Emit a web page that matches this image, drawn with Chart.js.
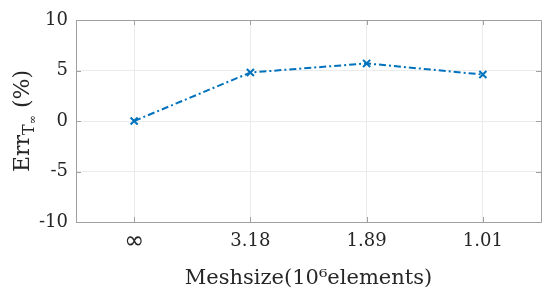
<!DOCTYPE html>
<html>
<head>
<meta charset="utf-8">
<script src="https://cdn.jsdelivr.net/npm/chart.js@4/dist/chart.umd.min.js"></script>
<style>
  html, body { margin: 0; padding: 0; background: #ffffff; }
  #wrap { width: 550px; height: 291px; }
</style>
</head>
<body>
<div id="wrap"><canvas id="c" width="550" height="291"></canvas></div>
<script>
const categories = ['\u221E', '3.18', '1.89', '1.01'];
const errValues = [0, 4.8, 5.7, 4.6];
const yTickValues = [-10, -5, 0, 5, 10];
const xTitle = 'Meshsize(10\u2076elements)';
const yTitleMain = 'Err';
const yTitleSub = 'T';
const yTitleSubSub = '\u221E';
const yTitleTail = ' (%)';

const FONT = "'DejaVu Serif', 'Liberation Serif', serif";
const INF_FONT = "'DejaVu Sans', 'DejaVu Serif', sans-serif";
const TEXT = '#262626';
const GRID = '#ebebeb';
const BOX = '#a0a0a0';

const boxPlugin = {
  id: 'boxPlugin',
  afterDatasetsDraw(chart) {
    const { ctx, chartArea: a, scales } = chart;
    ctx.save();
    ctx.strokeStyle = BOX;
    ctx.lineWidth = 1;
    ctx.beginPath();
    ctx.rect(Math.round(a.left) + 0.5, Math.round(a.top) + 0.5,
             Math.round(a.right - a.left), Math.round(a.bottom - a.top));
    ctx.stroke();
    const tl = 5;
    ctx.beginPath();
    scales.x.ticks.forEach((t, i) => {
      const px = Math.round(scales.x.getPixelForTick(i)) + 0.5;
      ctx.moveTo(px, a.bottom); ctx.lineTo(px, a.bottom - tl);
      ctx.moveTo(px, a.top); ctx.lineTo(px, a.top + tl);
    });
    scales.y.ticks.forEach((t) => {
      const py = Math.round(scales.y.getPixelForValue(t.value)) + 0.5;
      ctx.moveTo(a.left, py); ctx.lineTo(a.left + tl, py);
      ctx.moveTo(a.right, py); ctx.lineTo(a.right - tl, py);
    });
    ctx.stroke();
    ctx.restore();
  },
  afterDraw(chart) {
    const { ctx, chartArea: a } = chart;
    ctx.save();
    ctx.fillStyle = TEXT;
    ctx.textBaseline = 'alphabetic';
    ctx.textAlign = 'left';
    const big = "22px " + FONT, small = "16px " + FONT, tiny = "11px " + FONT;
    ctx.font = big; const w1 = ctx.measureText(yTitleMain).width;
    ctx.font = small; const w2 = ctx.measureText(yTitleSub).width;
    ctx.font = tiny; const w3 = ctx.measureText(yTitleSubSub).width;
    ctx.font = big; const w4 = ctx.measureText(yTitleTail).width;
    const total = w1 + w2 + w3 + w4;
    ctx.translate(29, (a.top + a.bottom) / 2);
    ctx.rotate(-Math.PI / 2);
    let x = -total / 2;
    ctx.font = big; ctx.fillText(yTitleMain, x, 0); x += w1;
    ctx.font = small; ctx.fillText(yTitleSub, x, 5); x += w2;
    ctx.font = tiny; ctx.fillText(yTitleSubSub, x, 7); x += w3;
    ctx.font = big; ctx.fillText(yTitleTail, x, 0);
    ctx.restore();
  }
};

new Chart(document.getElementById('c'), {
  type: 'line',
  data: {
    labels: categories,
    datasets: [{
      data: errValues,
      borderColor: '#0072BD',
      backgroundColor: '#0072BD',
      borderWidth: 2,
      borderDash: [7, 3, 2, 3],
      tension: 0,
      fill: false,
      pointStyle: 'crossRot',
      pointRadius: 5,
      pointBorderWidth: 2,
      pointBorderColor: '#0072BD'
    }]
  },
  options: {
    responsive: false,
    animation: false,
    layout: { padding: { top: 20, right: 9, left: 0, bottom: 0 } },
    plugins: { legend: { display: false }, tooltip: { enabled: false } },
    scales: {
      x: {
        type: 'category',
        offset: true,
        grid: { color: GRID, drawTicks: false, offset: false },
        border: { display: false },
        ticks: {
          color: TEXT,
          font: (c) => (c.tick && c.tick.label === '\u221E')
            ? { family: INF_FONT, size: 24, lineHeight: 0.9 }
            : { family: FONT, size: 18, lineHeight: 1.2 },
          padding: 9, maxRotation: 0
        },
        title: { display: true, text: xTitle, color: TEXT, font: { family: FONT, size: 21 }, padding: 0 },
        afterFit(s) { s.height = 69; }
      },
      y: {
        min: -10, max: 10,
        afterBuildTicks(s) { s.ticks = yTickValues.map(v => ({ value: v })); },
        grid: { color: GRID, drawTicks: false },
        border: { display: false },
        ticks: { color: TEXT, font: { family: FONT, size: 18 }, padding: 8 },
        afterFit(s) { s.width = 76; }
      }
    }
  },
  plugins: [boxPlugin]
});
</script>
</body>
</html>
